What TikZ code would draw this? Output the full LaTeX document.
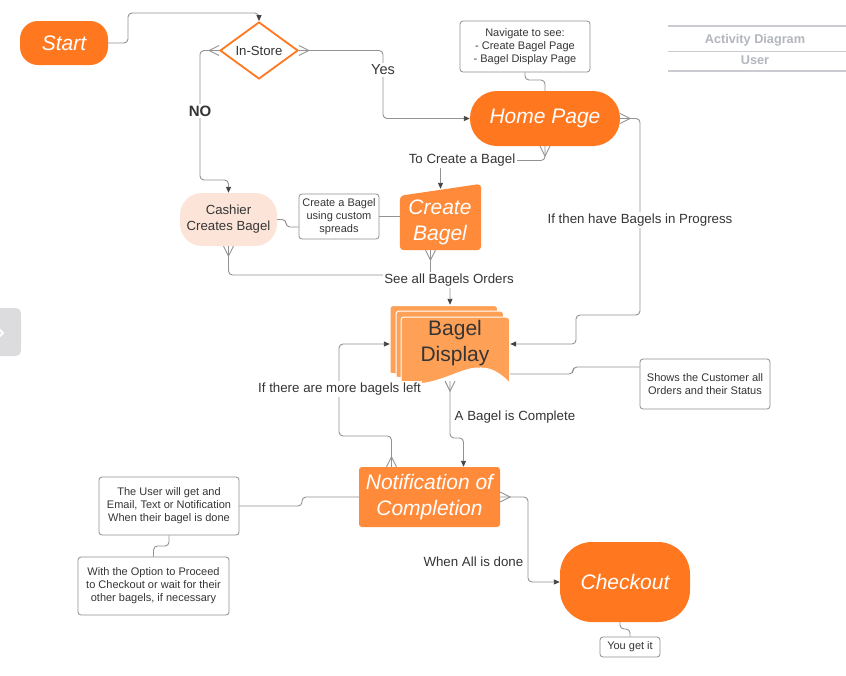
\documentclass[tikz,border=0pt]{standalone}
\usepackage{fontspec}
\setmainfont{Liberation Sans}
\usetikzlibrary{shapes.geometric,arrows.meta,calc}
\definecolor{orA}{HTML}{FF7820}
\definecolor{orB}{HTML}{FF8A3A}
\definecolor{orC}{HTML}{FFA057}
\definecolor{peach}{HTML}{FCE5D8}
\definecolor{lineg}{HTML}{939393}
\definecolor{arrg}{HTML}{444444}
\definecolor{txt}{HTML}{353535}
\definecolor{noteg}{HTML}{8E8E8E}
\definecolor{titleg}{HTML}{B3B6BD}
\definecolor{titleline}{HTML}{C9CBD0}
\definecolor{tabg}{HTML}{DCDCDE}
\newcommand\fs[2]{\fontsize{#1}{#2}\selectfont}
\tikzset{
  conn/.style={draw=lineg, line width=0.9pt, rounded corners=4pt},
  arr/.style={-{Triangle[length=6pt,width=5pt,color=arrg]}},
  lbl/.style={fill=white, inner sep=1.5pt, text=txt, font=\fs{13.3}{16}},
  note/.style={draw=noteg, line width=0.8pt, fill=white, rounded corners=3pt, align=center, text=txt, font=\fs{11}{13}, inner sep=0pt},
  big/.style={text=white, font=\fs{21}{25.5}\itshape, align=center, inner sep=0pt},
  page/.style={fill=orC, draw=white, line width=1pt},
  pics/crowL/.style={code={\draw[draw=lineg,line width=0.9pt] (0,5pt) -- (-10pt,0) -- (0,-5pt);}},
  pics/crowR/.style={code={\draw[draw=lineg,line width=0.9pt] (0,5pt) -- (10pt,0) -- (0,-5pt);}},
  pics/crowD/.style={code={\draw[draw=lineg,line width=0.9pt] (-5pt,0) -- (0,-10pt) -- (5pt,0);}},
  pics/crowU/.style={code={\draw[draw=lineg,line width=0.9pt] (-5pt,0) -- (0,10pt) -- (5pt,0);}},
}
\begin{document}
\begin{tikzpicture}[x=1pt,y=-1pt]
\useasboundingbox (0,0) rectangle (846,675);
\fill[white] (0,0) rectangle (846,675);

% side tab
\begin{scope}
\clip (0,0) rectangle (846,675);
\fill[tabg, rounded corners=5pt] (-10,308) rectangle (21,356);
\draw[white, line width=2pt] (-3,327) -- (3,333) -- (-3,339);
\end{scope}

% title block
\draw[titleline, line width=1.5pt] (668,26) -- (846,26);
\draw[titleline, line width=1.5pt] (668,51.5) -- (846,51.5);
\draw[titleline, line width=1.5pt] (668,71) -- (846,71);
\node[text=titleg, font=\fs{12.7}{15}\bfseries] (t1) at (755,40) {Activity Diagram};
\node[text=titleg, font=\fs{12.7}{15}\bfseries] (t2) at (755,60.5) {User};

% nodes
\node[fill=orA, rounded corners=18pt, minimum width=88pt, minimum height=44pt, big] (start) at (64,43) {Start};
\node[diamond, aspect=1.37, draw=orA, line width=1.8pt, fill=white, minimum width=78pt, minimum height=57pt, inner sep=0pt, text=txt, font=\fs{13.2}{15}] (dia) at (259,50.5) {In-Store};
\node[fill=orA, rounded corners=27pt, minimum width=150pt, minimum height=55pt, big] (home) at (545,118.5) {\raisebox{-1.5pt}{Home Page}};
\node[note, minimum width=130pt, minimum height=51pt] (nav) at (525,46.5) {Navigate to see:\\- Create Bagel Page\\- Bagel Display Page};
\node[fill=peach, rounded corners=22pt, minimum width=97pt, minimum height=53pt, align=center, text=txt, font=\fs{13.2}{16}, inner sep=0pt] (cashier) at (228.5,219.5) {Cashier\\Creates Bagel};
\node[note, minimum width=80pt, minimum height=45pt] (spreads) at (339,216.5) {Create a Bagel\\using custom\\spreads};

\node[minimum width=81pt, minimum height=66pt, inner sep=0pt] (cb) at (440.5,217) {};
\fill[orB, rounded corners=4pt] (cb.south west) -- ([yshift=-12pt]cb.north west) -- (cb.north east) -- (cb.south east) -- cycle;
\node[big] (cbt) at (440,222.5) {Create\\Bagel};

\node[minimum width=120pt, minimum height=78pt, inner sep=0pt] (bd) at (450,344) {};
\filldraw[page] (390,373) [rounded corners=3pt] -- (390,305.5) -- (497.5,305.5) [sharp corners] -- (497.5,374) .. controls (484,360) and (474,357) .. (458,360) .. controls (438,365) and (418,379) .. (390,373) -- cycle;
\filldraw[page] (396,377) [rounded corners=3pt] -- (396,311) -- (503.5,311) [sharp corners] -- (503.5,378) .. controls (490,364) and (480,361) .. (464,364) .. controls (444,369) and (424,383) .. (396,377) -- cycle;
\filldraw[page] (401,382) [rounded corners=3pt] -- (401,317) -- (509.5,317) [sharp corners] -- (509.5,383) .. controls (496,369) and (486,366) .. (470,369) .. controls (450,374) and (428,389) .. (401,382) -- cycle;
\node[text=txt, font=\fs{21}{26}, align=center, inner sep=0pt] (bdt) at (455,343.5) {Bagel\\Display};

\node[note, minimum width=130pt, minimum height=50pt] (shows) at (705,384) {Shows the Customer all\\Orders and their Status};
\node[fill=orB, rounded corners=3pt, minimum width=141pt, minimum height=60pt, big] (notif) at (429.5,497) {Notification of\\Completion};
\node[note, minimum width=140pt, minimum height=58pt] (user) at (169,506) {The User will get and\\Email, Text or Notification\\When their bagel is done};
\node[note, minimum width=151pt, minimum height=58pt] (option) at (153.5,586) {With the Option to Proceed\\to Checkout or wait for their\\other bagels, if necessary};
\node[fill=orA, rounded corners=32pt, minimum width=130pt, minimum height=80pt, big] (checkout) at (625,582) {Checkout};
\node[note, minimum width=60pt, minimum height=20pt] (you) at (630,647) {You get it};

% connectors
\draw[conn,arr] (start.east) -- (128,43) -- (128,13) -- (259,13) -- (dia.north);

\pic at (dia.west) {crowL};
\draw[conn,arr] (dia.west) -- (200,50.5) -- (200,180) -- (228.5,180) -- (cashier.north);

\pic at (dia.east) {crowR};
\draw[conn,arr] (dia.east) -- (383,50.5) -- (383,118.5) -- (home.west);

\draw[conn] (nav.south) -- (525,80) -- (545,80) -- (home.north);

\pic at (home.south) {crowD};
\draw[conn,arr] (home.south) -- (545,160.5) -- (440.5,160.5) -- ([yshift=-5pt]cb.north);

\draw[conn] (cashier.east) -- (286,219.5) -- (286,227) -- (spreads.west |- 0,227);
\draw[conn] (spreads.east) -- (cb.west |- spreads.east);

\pic at (cashier.south) {crowD};
\draw[conn,arr] (cashier.south) -- (228.5,275) -- (450,275) -- (bd.north);
\pic at ([xshift=-10pt]cb.south) {crowD};
\draw[conn] ([xshift=-10pt]cb.south) -- (430.5,275);

\pic at (home.east) {crowR};
\draw[conn,arr] (home.east) -- (640,118.5) -- (640,315) -- (576,315) -- (576,344) -- (bd.east);

\draw[conn] ([yshift=-30pt]bd.east) -- (573,374) -- (573,367) -- (shows.west |- 0,367);

\coordinate (bdb) at (450,381);
\pic at (bdb) {crowD};
\draw[conn,arr] (bdb) -- (450,438) -- (463.5,438) -- ([xshift=34pt]notif.north);

\pic at ([xshift=-38pt]notif.north) {crowU};
\draw[conn,arr] ([xshift=-38pt]notif.north) -- (391.5,436) -- (339,436) -- (339,344) -- (bd.west);

\draw[conn] (notif.west) -- (302,497) -- (302,506) -- (user.east);
\draw[conn] (user.south) -- (169,546) -- (153.5,546) -- (option.north);

\pic at (notif.east) {crowR};
\draw[conn,arr] (notif.east) -- (528,497) -- (528,582) -- (checkout.west);

\draw[conn] ([xshift=-5pt]checkout.south) -- (620,629) -- (630,629) -- (you.north);

% labels
\node[lbl, font=\fs{14.5}{17}] (yes) at (383,70) {Yes};
\node[lbl, font=\fs{15}{17}\bfseries] (no) at (200,111) {NO};
\node[lbl] (l1) at (462,160.5) {To Create a Bagel};
\node[lbl] (l2) at (449,280) {See all Bagels Orders};
\node[lbl] (l3) at (640,220) {If then have Bagels in Progress};
\node[lbl] (l4) at (339.5,389) {If there are more bagels left};
\node[lbl, anchor=west] (l5) at (453,417) {A Bagel is Complete};
\node[lbl, anchor=east] (l6) at (525,562) {When All is done};
\end{tikzpicture}
\end{document}
